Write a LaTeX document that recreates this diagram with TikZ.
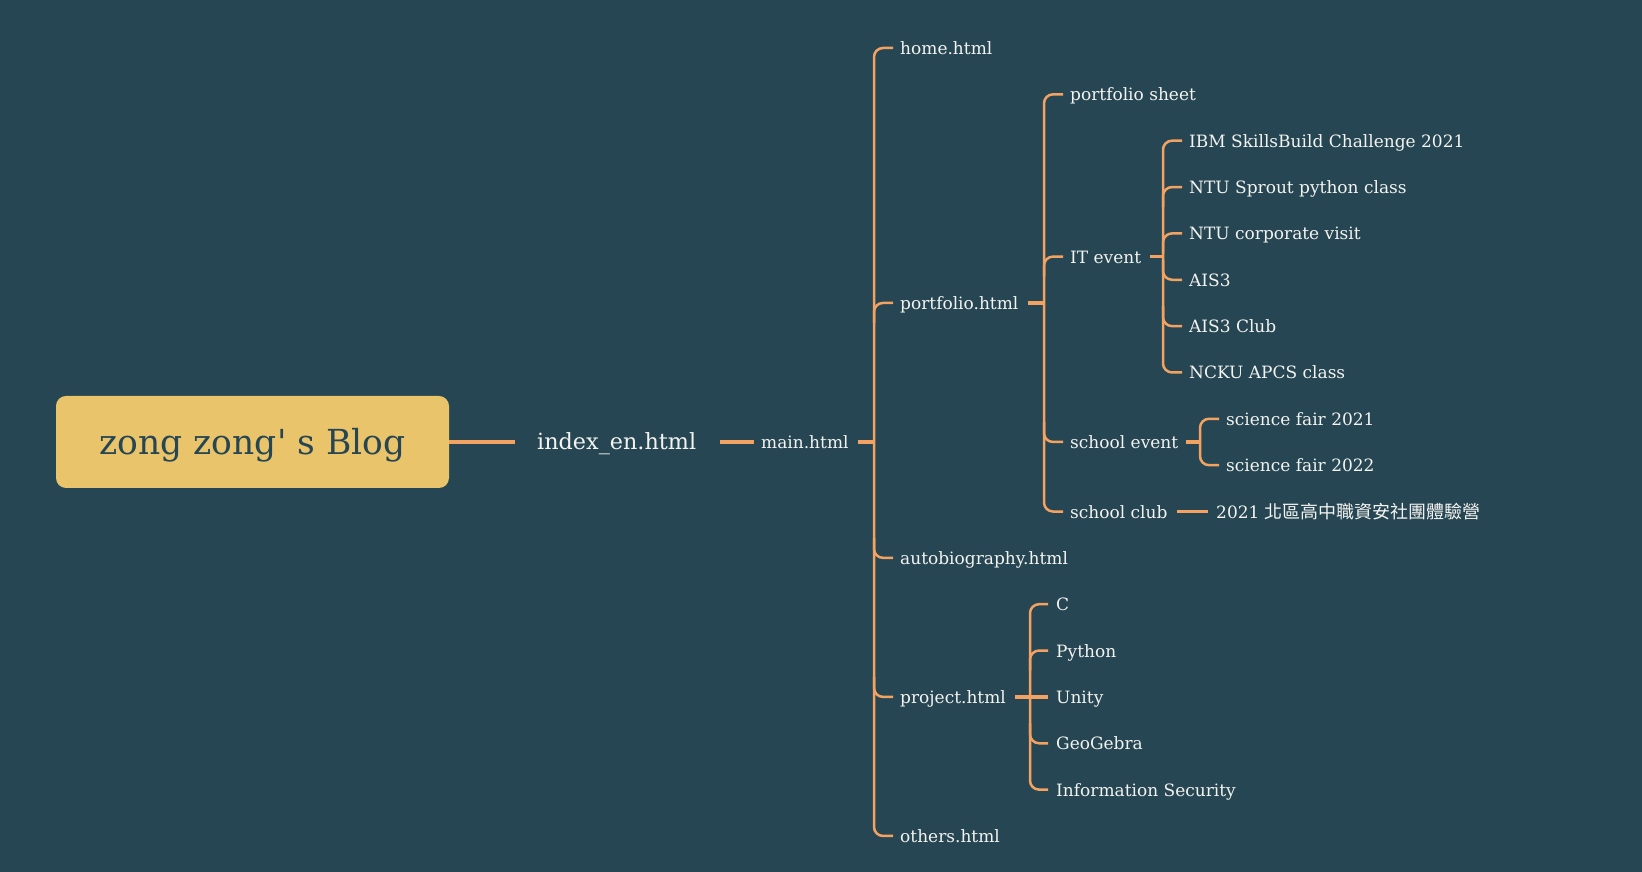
\documentclass[tikz,border=0pt]{standalone}
\usepackage{fontspec}
\setmainfont{DejaVu Serif}
\newfontfamily\rootfont{DejaVu Serif}
\newfontfamily\cjk{Noto Sans CJK TC}
\usetikzlibrary{calc}
\definecolor{bg}{HTML}{264653}
\definecolor{gold}{HTML}{E9C46A}
\definecolor{orng}{HTML}{F4A261}
\definecolor{fg}{HTML}{F3F3EF}
\pgfmathdeclarefunction{rowy}{1}{\pgfmathparse{48+46.35*#1}}
\begin{document}
\begin{tikzpicture}[x=1pt,y=-1pt,
  leaf/.style={anchor=base west, inner sep=0pt, text=fg, font=\fontsize{17}{20}\selectfont, yshift=-6.5pt},
  conn/.style={draw=orng, line width=2.5pt, rounded corners=9pt},
  pconn/.style={draw=orng, line width=3.6pt},
  rootbox/.style={fill=gold, rounded corners=10pt, minimum width=393pt, minimum height=92pt, inner sep=0pt},
]
\fill[bg] (0,0) rectangle (1642,872);
\useasboundingbox (0,0) rectangle (1642,872);

% root and first levels
\node[rootbox] (root) at (252.5,{rowy(8.5)}) {};
\node[anchor=base, inner sep=0pt, text=bg, font=\rootfont\fontsize{34.5}{40}\selectfont] (roottext) at (252.5,{rowy(8.5)+13}) {zong zong' s Blog};
\node[leaf, font=\fontsize{22.3}{26}\selectfont, yshift=-0.8pt] (index) at (537,{rowy(8.5)}) {index\_en.html};
\node[leaf] (main) at (761,{rowy(8.5)}) {main.html};

% main children
\node[leaf] (home) at (900,{rowy(0)}) {home.html};
\node[leaf] (portfolio) at (900,{rowy(5.5)}) {portfolio.html};
\node[leaf] (autobio) at (900,{rowy(11)}) {autobiography.html};
\node[leaf] (project) at (900,{rowy(14)}) {project.html};
\node[leaf] (others) at (900,{rowy(17)}) {others.html};

% portfolio children
\node[leaf] (psheet) at (1070,{rowy(1)}) {portfolio sheet};
\node[leaf] (itevent) at (1070,{rowy(4.5)}) {IT event};
\node[leaf] (schevent) at (1070,{rowy(8.5)}) {school event};
\node[leaf] (schclub) at (1070,{rowy(10)}) {school club};

% IT event children
\node[leaf] (ibm) at (1189,{rowy(2)}) {IBM SkillsBuild Challenge 2021};
\node[leaf] (sprout) at (1189,{rowy(3)}) {NTU Sprout python class};
\node[leaf] (corp) at (1189,{rowy(4)}) {NTU corporate visit};
\node[leaf] (ais) at (1189,{rowy(5)}) {AIS3};
\node[leaf] (aisclub) at (1189,{rowy(6)}) {AIS3 Club};
\node[leaf] (ncku) at (1189,{rowy(7)}) {NCKU APCS class};

% school event children
\node[leaf] (sf21) at (1226,{rowy(8)}) {science fair 2021};
\node[leaf] (sf22) at (1226,{rowy(9)}) {science fair 2022};

% school club child
\node[leaf] (camp) at (1216,{rowy(10)}) {2021 {\cjk\fontsize{18}{20}\selectfont 北區高中職資安社團體驗營}};

% project children
\node[leaf] (c) at (1056,{rowy(12)}) {C};
\node[leaf] (py) at (1056,{rowy(13)}) {Python};
\node[leaf] (unity) at (1056,{rowy(14)}) {Unity};
\node[leaf] (geo) at (1056,{rowy(15)}) {GeoGebra};
\node[leaf] (infosec) at (1056,{rowy(16)}) {Information Security};

% connectors: trunk
\draw[pconn] (root.east) -- ($(index.base west)+(-22,-7.3)$);
\draw[pconn] ($(index.base east)+(24,-7.3)$) -- ($(main.base west)+(-7,-6.5)$);
\draw[pconn] ($(main.base east)+(9,-6.5)$) -- (874,{rowy(8.5)});

% main bracket (spine x=874)
\draw[conn] ($(home.base west)+(-7,-6.5)$) -- (874,{rowy(0)}) -- (874,{rowy(17)}) -- ($(others.base west)+(-7,-6.5)$);
\draw[conn] (874,{rowy(5.5)+20}) -- (874,{rowy(5.5)}) -- ($(portfolio.base west)+(-7,-6.5)$);
\draw[conn] (874,{rowy(11)-20}) -- (874,{rowy(11)}) -- ($(autobio.base west)+(-7,-6.5)$);
\draw[conn] (874,{rowy(14)-20}) -- (874,{rowy(14)}) -- ($(project.base west)+(-7,-6.5)$);

% portfolio bracket (spine x=1044)
\draw[pconn] ($(portfolio.base east)+(9,-6.5)$) -- (1044,{rowy(5.5)});
\draw[conn] ($(psheet.base west)+(-7,-6.5)$) -- (1044,{rowy(1)}) -- (1044,{rowy(10)}) -- ($(schclub.base west)+(-7,-6.5)$);
\draw[conn] (1044,{rowy(4.5)+20}) -- (1044,{rowy(4.5)}) -- ($(itevent.base west)+(-7,-6.5)$);
\draw[conn] (1044,{rowy(8.5)-20}) -- (1044,{rowy(8.5)}) -- ($(schevent.base west)+(-7,-6.5)$);

% IT event bracket (spine x=1163)
\draw[pconn] ($(itevent.base east)+(9,-6.5)$) -- (1163,{rowy(4.5)});
\draw[conn] ($(ibm.base west)+(-7,-6.5)$) -- (1163,{rowy(2)}) -- (1163,{rowy(7)}) -- ($(ncku.base west)+(-7,-6.5)$);
\draw[conn] (1163,{rowy(3)+20}) -- (1163,{rowy(3)}) -- ($(sprout.base west)+(-7,-6.5)$);
\draw[conn] (1163,{rowy(4)+20}) -- (1163,{rowy(4)}) -- ($(corp.base west)+(-7,-6.5)$);
\draw[conn] (1163,{rowy(5)-20}) -- (1163,{rowy(5)}) -- ($(ais.base west)+(-7,-6.5)$);
\draw[conn] (1163,{rowy(6)-20}) -- (1163,{rowy(6)}) -- ($(aisclub.base west)+(-7,-6.5)$);

% school event bracket (spine x=1200)
\draw[pconn] ($(schevent.base east)+(8,-6.5)$) -- (1200,{rowy(8.5)});
\draw[conn] ($(sf21.base west)+(-7,-6.5)$) -- (1200,{rowy(8)}) -- (1200,{rowy(9)}) -- ($(sf22.base west)+(-7,-6.5)$);

% school club
\draw[pconn] ($(schclub.base east)+(9,-6.5)$) -- ($(camp.base west)+(-8,-6.5)$);

% project bracket (spine x=1030)
\draw[pconn] ($(project.base east)+(9,-6.5)$) -- ($(unity.base west)+(-8,-6.5)$);
\draw[conn] ($(c.base west)+(-8,-6.5)$) -- (1030,{rowy(12)}) -- (1030,{rowy(16)}) -- ($(infosec.base west)+(-8,-6.5)$);
\draw[conn] (1030,{rowy(13)+20}) -- (1030,{rowy(13)}) -- ($(py.base west)+(-8,-6.5)$);
\draw[conn] (1030,{rowy(15)-20}) -- (1030,{rowy(15)}) -- ($(geo.base west)+(-8,-6.5)$);
\end{tikzpicture}
\end{document}
